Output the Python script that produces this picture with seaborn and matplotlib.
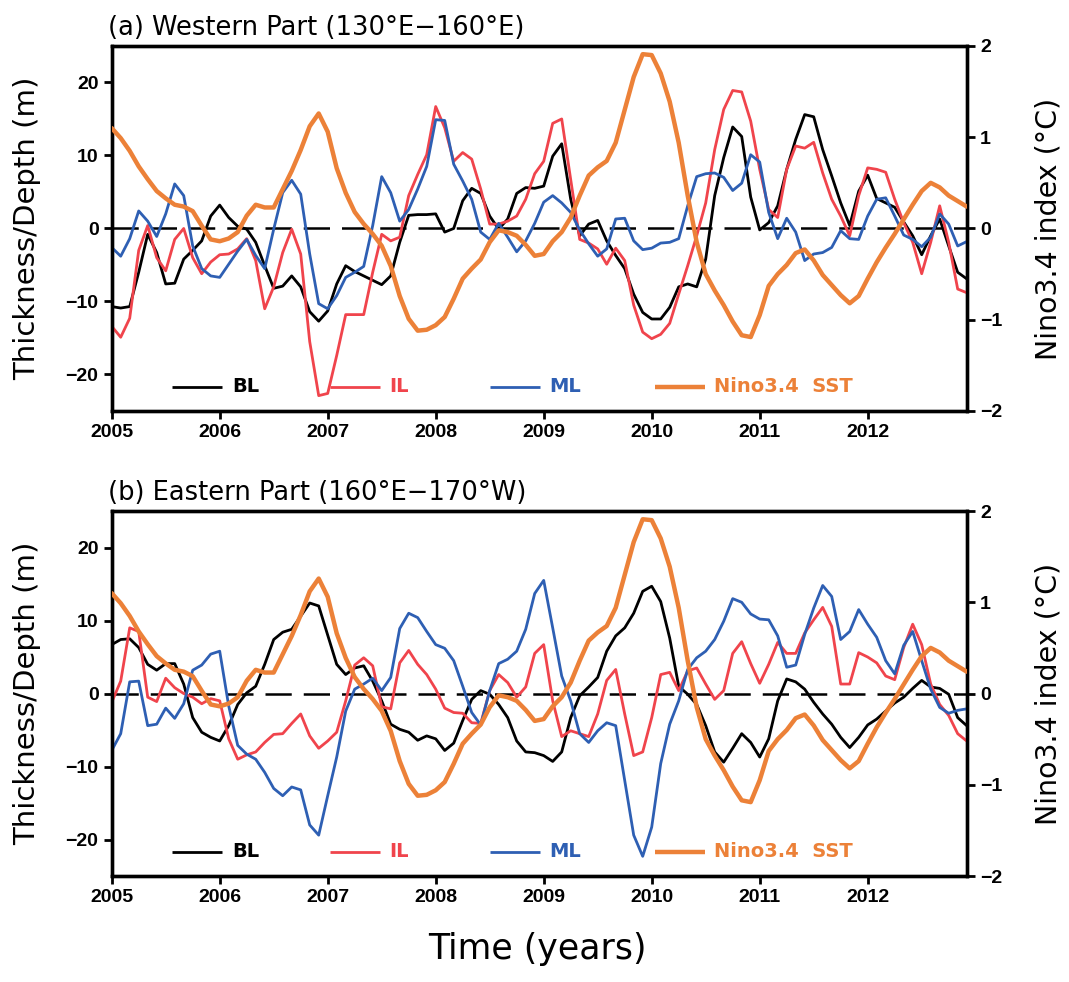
import numpy as np
import pandas as pd
import matplotlib
matplotlib.use("Agg")
import matplotlib.pyplot as plt
import seaborn as sns

# monthly values, Jan 2005 .. Dec 2012
months = 2005 + np.arange(96) / 12.0
years = list(range(2005, 2013))

nino34 = [1.10, 0.99, 0.85, 0.68, 0.54, 0.41, 0.33, 0.26, 0.24, 0.19, 0.03, -0.12,
          -0.14, -0.11, -0.04, 0.14, 0.26, 0.23, 0.23, 0.43, 0.63, 0.86, 1.12, 1.26,
          1.06, 0.66, 0.39, 0.18, 0.05, -0.06, -0.19, -0.41, -0.74, -0.99, -1.12, -1.11,
          -1.06, -0.97, -0.77, -0.55, -0.44, -0.34, -0.15, -0.02, -0.04, -0.08, -0.18, -0.30,
          -0.28, -0.14, -0.04, 0.12, 0.36, 0.58, 0.67, 0.74, 0.94, 1.30, 1.66, 1.91,
          1.90, 1.70, 1.39, 0.94, 0.36, -0.15, -0.50, -0.68, -0.84, -1.02, -1.17, -1.19,
          -0.95, -0.63, -0.50, -0.40, -0.27, -0.23, -0.35, -0.51, -0.62, -0.73, -0.82, -0.74,
          -0.55, -0.37, -0.21, -0.06, 0.10, 0.26, 0.41, 0.50, 0.45, 0.36, 0.30, 0.24]

# (a) western part
bl_west = [-10.7, -10.9, -10.7, -6.0, -0.8, -3.3, -7.6, -7.5, -4.2, -3.0, -1.7, 1.7,
           3.2, 1.5, 0.3, -0.1, -1.9, -5.1, -8.2, -7.9, -6.5, -8.0, -11.4, -12.7,
           -11.3, -7.6, -5.1, -5.9, -6.5, -7.1, -7.7, -6.5, -1.9, 1.8, 1.9, 1.9,
           2.0, -0.5, 0.0, 3.8, 5.5, 4.8, 1.7, -0.1, 1.3, 4.8, 5.6, 5.5,
           5.8, 9.9, 11.6, 4.0, -1.0, 0.6, 1.1, -1.7, -3.7, -5.5, -9.0, -11.5,
           -12.4, -12.4, -10.8, -8.0, -7.6, -8.0, -4.2, 4.5, 9.7, 13.9, 12.6, 4.3,
           -0.2, 0.8, 3.1, 8.1, 12.2, 15.6, 15.3, 10.8, 7.2, 3.5, 0.4, 5.1,
           7.3, 4.1, 3.5, 2.9, 0.9, -1.0, -3.6, -1.0, 1.3, -2.4, -6.0, -6.9]
il_west = [-13.4, -14.9, -12.3, -3.0, 0.4, -4.0, -5.8, -1.5, 0.0, -4.0, -6.2, -4.6,
           -3.6, -3.5, -2.8, -1.4, -4.4, -11.0, -8.0, -3.3, -0.1, -3.5, -15.5, -22.9,
           -22.6, -17.4, -11.8, -11.8, -11.8, -6.0, -0.8, -1.7, -1.2, 4.5, 7.4, 10.1,
           16.7, 13.8, 9.2, 10.4, 9.5, 5.4, 0.6, 0.6, 1.0, 1.7, 4.0, 7.5,
           9.2, 14.4, 15.0, 6.7, -1.5, -2.0, -2.8, -4.9, -2.7, -4.4, -10.5, -14.2,
           -15.1, -14.5, -13.0, -9.0, -5.1, -1.0, 3.5, 10.8, 16.3, 18.9, 18.7, 14.7,
           8.1, 2.6, 1.5, 8.1, 11.3, 11.0, 11.8, 7.6, 4.0, 1.7, -1.0, 4.5,
           8.3, 8.1, 7.7, 4.0, 0.8, -1.9, -6.2, -1.9, 3.1, -1.9, -8.3, -8.8]
ml_west = [-2.6, -3.8, -1.4, 2.4, 1.0, -1.1, 2.0, 6.1, 4.5, -2.4, -5.5, -6.5,
           -6.7, -4.9, -3.1, -1.5, -3.7, -5.5, -0.1, 4.9, 6.6, 4.7, -3.5, -10.3,
           -11.0, -9.2, -6.7, -6.0, -5.2, 0.4, 7.1, 4.9, 1.0, 2.6, 5.4, 8.5,
           14.9, 14.8, 8.8, 6.5, 4.0, -0.5, -1.5, 0.7, -1.2, -3.2, -1.7, 0.7,
           3.6, 4.5, 3.5, 2.2, -0.2, -2.1, -3.8, -2.8, 1.3, 1.4, -1.7, -2.9,
           -2.7, -2.0, -1.9, -1.4, 3.1, 7.1, 7.5, 7.6, 7.0, 5.2, 6.2, 10.1,
           9.1, 2.2, -1.4, 1.4, -0.5, -4.4, -3.5, -3.3, -2.6, -0.3, -1.4, -1.5,
           1.7, 4.0, 4.2, 1.7, -0.9, -1.5, -2.5, -1.2, 2.0, 0.6, -2.4, -1.8]

# (b) eastern part
bl_east = [6.7, 7.4, 7.5, 6.3, 4.0, 3.2, 4.1, 4.1, 1.3, -3.3, -5.3, -6.0,
           -6.5, -4.4, -1.5, 0.1, 1.0, 4.0, 7.4, 8.4, 8.8, 10.6, 12.4, 12.0,
           8.0, 4.0, 2.6, 3.5, 3.8, 1.7, -1.0, -4.2, -4.9, -5.3, -6.4, -5.8,
           -6.2, -7.8, -6.8, -3.7, -0.8, 0.4, -0.1, -1.5, -3.3, -6.5, -8.0, -8.1,
           -8.5, -9.3, -8.0, -3.3, -0.3, 0.9, 2.2, 5.8, 7.9, 9.0, 11.0, 14.0,
           14.7, 12.6, 7.6, 1.0, -0.1, -1.5, -4.4, -8.0, -9.4, -7.5, -5.5, -6.7,
           -8.7, -6.2, -1.0, 2.0, 1.6, 0.6, -1.2, -2.8, -4.2, -6.0, -7.4, -6.0,
           -4.3, -3.5, -2.4, -1.3, -0.5, 0.7, 1.8, 0.9, 0.7, -0.1, -3.3, -4.4]
il_east = [-1.2, 1.7, 9.0, 8.5, -0.5, -1.1, 2.1, 0.8, 0.0, -0.5, -1.4, -0.7,
           -1.0, -6.2, -9.0, -8.4, -8.0, -6.7, -5.6, -5.5, -4.1, -2.8, -5.8, -7.5,
           -6.5, -5.3, -1.0, 3.9, 4.9, 3.8, -1.8, -2.1, 4.2, 5.9, 4.0, 2.6,
           0.6, -2.0, -2.6, -2.7, -4.0, -4.1, 0.4, 2.6, 1.5, -0.5, 0.9, 5.5,
           6.7, -1.0, -5.9, -5.1, -5.5, -5.9, -2.8, 1.8, 3.3, -2.8, -8.5, -8.0,
           -3.3, 2.6, 2.9, 0.4, 3.1, 3.5, 1.3, -0.8, 0.4, 5.5, 7.1, 4.1,
           1.4, 4.0, 7.0, 5.5, 5.5, 8.3, 10.1, 11.8, 9.2, 1.3, 1.3, 5.6,
           5.0, 4.2, 2.4, 1.9, 6.3, 9.5, 6.7, 1.3, -1.5, -3.0, -5.5, -6.5]
ml_east = [-7.8, -5.5, 1.6, 1.7, -4.4, -4.2, -2.0, -3.4, -1.4, 3.2, 3.9, 5.4,
           5.8, -1.7, -7.1, -8.3, -9.0, -10.8, -13.0, -14.0, -12.8, -13.2, -18.0, -19.4,
           -14.0, -8.7, -2.4, 0.6, 1.3, 2.1, 0.4, 2.2, 8.9, 11.0, 10.4, 8.5,
           6.7, 6.2, 4.5, 1.0, -2.6, -4.3, 0.4, 4.1, 4.7, 5.8, 8.8, 13.7,
           15.5, 9.0, 2.4, -1.0, -5.5, -6.7, -5.1, -4.0, -4.4, -11.9, -19.4, -22.3,
           -18.3, -9.6, -4.2, -1.0, 3.3, 4.9, 5.8, 7.4, 9.9, 13.0, 12.5, 10.9,
           10.2, 10.1, 7.9, 3.6, 3.9, 8.1, 11.7, 14.8, 13.3, 7.4, 8.5, 11.5,
           9.5, 7.7, 4.5, 2.7, 6.6, 8.5, 4.5, 0.6, -1.9, -2.7, -2.3, -2.1]

panels = [
    ("(a) Western Part (130\u00b0E\u2212160\u00b0E)", bl_west, il_west, ml_west),
    ("(b) Eastern Part (160\u00b0E\u2212170\u00b0W)", bl_east, il_east, ml_east),
]

colors = {"BL": "#000000", "IL": "#f0444c", "ML": "#2e5fb3", "Nino3.4  SST": "#ec8138"}
legend_x = {"BL": 0.0705, "IL": 0.255, "ML": 0.442, "Nino3.4  SST": 0.635}

sns.set_style("ticks", {"axes.edgecolor": "black", "xtick.color": "black",
                        "ytick.color": "black", "text.color": "black",
                        "axes.labelcolor": "black"})
plt.rcParams["font.family"] = ["DejaVu Sans"]
plt.rcParams["axes.linewidth"] = 2.4

fig = plt.figure(figsize=(10.69, 9.82), dpi=100)
boxes = [[0.1045, 0.5815, 0.7998, 0.3717], [0.1045, 0.1079, 0.7998, 0.3717]]

for box, (title, bl, il, ml) in zip(boxes, panels):
    ax = fig.add_axes(box)
    df = pd.DataFrame({"time": months, "BL": bl, "IL": il, "ML": ml, "nino": nino34})

    ax.axhline(0, color="black", lw=1.8, ls=(0, (10.5, 4.8)), zorder=1)
    for name in ["BL", "IL", "ML"]:
        sns.lineplot(data=df, x="time", y=name, ax=ax, color=colors[name], lw=2.0, zorder=3)

    ax.set_xlim(months[0], months[-1])
    ax.set_ylim(-25, 25)
    ax.set_xticks(years)
    ax.set_xticklabels([str(y) for y in years])
    ax.set_yticks([-20, -10, 0, 10, 20])
    ax.set_yticklabels(["\u221220", "\u221210", "0", "10", "20"])
    ax.set_xlabel("")
    ax.set_ylabel("Thickness/Depth (m)", fontsize=21)
    ax.yaxis.set_label_coords(-0.083, 0.5)
    ax.tick_params(direction="out", length=6, width=2, labelsize=14, colors="black")
    for lab in ax.get_xticklabels() + ax.get_yticklabels():
        lab.set_family("Liberation Sans")
        lab.set_fontweight("bold")
    ax.set_title(title, loc="left", fontsize=18.5, pad=8, x=-0.004, color="black")

    axr = ax.twinx()
    sns.lineplot(data=df, x="time", y="nino", ax=axr, color=colors["Nino3.4  SST"], lw=3.2, zorder=4)
    axr.set_ylim(-2, 2)
    axr.set_yticks([-2, -1, 0, 1, 2])
    axr.set_yticklabels(["\u22122", "\u22121", "0", "1", "2"])
    axr.set_ylabel("Nino3.4 index (\u00b0C)", fontsize=20.5)
    axr.yaxis.set_label_coords(1.079, 0.5)
    axr.tick_params(direction="out", length=6, width=2, labelsize=14, colors="black")
    for lab in axr.get_yticklabels():
        lab.set_family("Liberation Sans")
        lab.set_fontweight("bold")
    for sp in axr.spines.values():
        sp.set_linewidth(2.4)
        sp.set_color("black")

    # manual horizontal legend along the bottom of each panel
    for name, x0 in legend_x.items():
        w = 3.2 if name.startswith("Nino") else 2.0
        ax.plot([x0, x0 + 0.059], [0.066, 0.066], transform=ax.transAxes,
                color=colors[name], lw=w, solid_capstyle="butt", zorder=5)
        ax.text(x0 + 0.07, 0.066, name, transform=ax.transAxes, color=colors[name],
                fontsize=14, fontweight="bold", va="center", ha="left", zorder=5)

fig.text(0.503, 0.016, "Time (years)", fontsize=25, ha="center", va="bottom")

fig.savefig("out.png", dpi=100)
